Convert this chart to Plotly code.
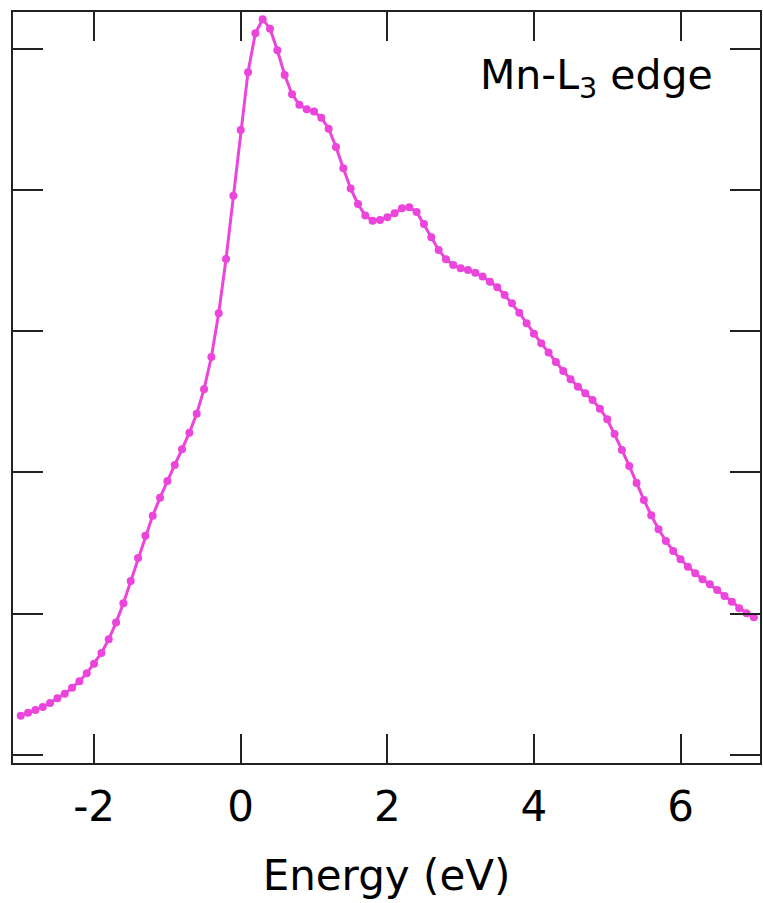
import plotly.graph_objects as go

energy = [round(-3.0 + 0.1 * i, 1) for i in range(101)]
intensity = [
    0.278, 0.299, 0.319, 0.340, 0.368, 0.401, 0.434, 0.476, 0.522, 0.578,
    0.646, 0.722, 0.819, 0.937, 1.074, 1.232, 1.394, 1.552, 1.694, 1.821,
    1.940, 2.053, 2.164, 2.281, 2.416, 2.589, 2.817, 3.127, 3.511, 3.959,
    4.424, 4.833, 5.109, 5.208, 5.141, 4.988, 4.813, 4.677, 4.603, 4.571,
    4.554, 4.511, 4.433, 4.304, 4.153, 4.009, 3.900, 3.818, 3.782, 3.787,
    3.806, 3.834, 3.870, 3.877, 3.844, 3.759, 3.665, 3.575, 3.509, 3.469,
    3.445, 3.433, 3.414, 3.386, 3.350, 3.311, 3.256, 3.197, 3.131, 3.056,
    2.982, 2.914, 2.848, 2.782, 2.718, 2.659, 2.607, 2.560, 2.513, 2.451,
    2.376, 2.272, 2.159, 2.046, 1.925, 1.805, 1.697, 1.598, 1.515, 1.444,
    1.385, 1.333, 1.286, 1.244, 1.208, 1.168, 1.126, 1.085, 1.038, 1.003,
    0.975,
]
x_ticks = [-2, 0, 2, 4, 6]
y_ticks = [0, 1, 2, 3, 4, 5]

FONT = "DejaVu Sans"
AX = "#222222"

fig = go.Figure()
fig.add_trace(go.Scatter(
    x=energy, y=intensity, mode="lines+markers",
    line=dict(color="#EC45DC", width=3),
    marker=dict(color="#EC45DC", size=8),
    showlegend=False,
))

fig.update_layout(
    width=763, height=903,
    margin=dict(l=13, r=1, t=12, b=140),
    paper_bgcolor="white", plot_bgcolor="white",
    font=dict(family=FONT, color="black"),
    xaxis=dict(
        range=[-3.106, 7.084], tickvals=x_ticks,
        ticktext=[str(v) for v in x_ticks],
        ticks="inside", ticklen=29, tickwidth=1.5, tickcolor=AX,
        showline=True, linewidth=2, linecolor=AX, mirror="ticks",
        showgrid=False, zeroline=False,
        tickfont=dict(family=FONT, size=42, color="black"),
        ticklabelstandoff=6,
        title=dict(text="Energy (eV)", font=dict(family=FONT, size=42, color="black"), standoff=30),
    ),
    yaxis=dict(
        range=[-0.057, 5.259], tickvals=y_ticks, showticklabels=False,
        ticks="inside", ticklen=30, tickwidth=1.5, tickcolor=AX,
        showline=True, linewidth=2, linecolor=AX, mirror="ticks",
        showgrid=False, zeroline=False,
    ),
    annotations=[dict(
        text="Mn-L<sub>3</sub> edge", xref="paper", yref="paper",
        x=(711.7 - 13) / 749, y=(763 - 93) / 751, xanchor="right", yanchor="bottom",
        xshift=5, yshift=-14, showarrow=False,
        font=dict(family=FONT, size=41, color="black"),
    )],
)

fig.write_html("out.html")
